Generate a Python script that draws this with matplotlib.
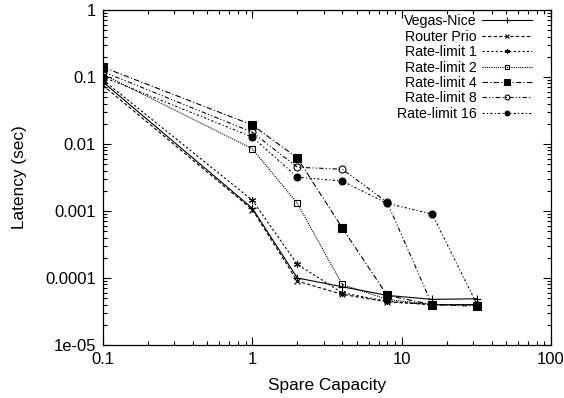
import matplotlib
matplotlib.use("Agg")
import matplotlib.pyplot as plt
from matplotlib.ticker import FuncFormatter, LogLocator

plt.rcParams["font.family"] = ["Liberation Sans", "DejaVu Sans"]

capacity = [0.1, 1, 2, 4, 8, 16, 32]
vegas_nice = [0.084, 0.0011, 0.0001, 0.000074, 0.000055, 0.000048, 0.000049]
router_prio = [0.075, 0.00105, 0.00009, 0.000057, 0.000044, 0.00004, 0.00004]
rate_1 = [0.09, 0.00145, 0.00016, 0.00006, 0.000045, 0.00004, 0.00004]
rate_2 = [0.11, 0.0085, 0.0013, 0.00008, 0.000048, 0.00004, 0.00004]
rate_4 = [0.14, 0.0192, 0.0062, 0.00056, 0.000055, 0.00004, 0.000038]
rate_8 = [0.12, 0.015, 0.0045, 0.0042, 0.00135, 0.00004, 0.00004]
rate_16 = [0.1, 0.0127, 0.0032, 0.0028, 0.0013, 0.0009, 0.00004]

series = [
    ("Vegas-Nice", vegas_nice, "-", "+", "k", 6),
    ("Router Prio", router_prio, (0, (3, 2)), "x", "k", 4),
    ("Rate-limit 1", rate_1, (0, (2, 2)), (6, 2, 0), "k", 5),
    ("Rate-limit 2", rate_2, (0, (1, 1)), "s", "none", 5),
    ("Rate-limit 4", rate_4, (0, (5, 2, 1, 2)), "s", "k", 6),
    ("Rate-limit 8", rate_8, (0, (4, 2, 1, 2, 1, 2)), "o", "none", 5),
    ("Rate-limit 16", rate_16, (0, (2, 2, 1, 2)), "o", "k", 5),
]

fig = plt.figure(figsize=(5.64, 3.98), dpi=100)
ax = fig.add_axes([103 / 564, 53 / 398, 448 / 564, 335 / 398])

for label, vals, ls, mk, mfc, ms in series:
    ax.plot(capacity, vals, color="k", ls=ls, lw=0.8, marker=mk, ms=ms,
            mfc=mfc, mec="k", mew=0.8, label=label)

ax.set_xscale("log")
ax.set_yscale("log")
ax.set_xlim(0.1, 100)
ax.set_ylim(1e-5, 1)

fmt = {1: "1", 0.1: "0.1", 0.01: "0.01", 0.001: "0.001", 1e-4: "0.0001", 1e-5: "1e-05",
       10: "10", 100: "100"}
ax.xaxis.set_major_formatter(FuncFormatter(lambda v, p: fmt.get(round(v, 6), "")))
ax.yaxis.set_major_formatter(FuncFormatter(lambda v, p: fmt.get(round(v, 6) if v >= 1e-4 else 1e-5, "")))
ax.xaxis.set_minor_locator(LogLocator(base=10, subs=range(2, 10)))
ax.yaxis.set_minor_locator(LogLocator(base=10, subs=range(2, 10)))

ax.tick_params(which="both", direction="in", top=True, right=True, labelsize=12, width=0.8)
ax.tick_params(which="major", length=6, pad=5)
ax.tick_params(which="minor", length=3)
for s in ax.spines.values():
    s.set_linewidth(0.9)

ax.set_xlabel("Spare Capacity", fontsize=12.4, labelpad=8)
ax.set_ylabel("Latency (sec)", fontsize=12.4, labelpad=13)

ax.legend(loc="upper right", frameon=False, markerfirst=False, fontsize=10.2,
          handlelength=3.5, labelspacing=0.1, borderaxespad=0, borderpad=0.3,
          handletextpad=0.4, markerscale=0.7, bbox_to_anchor=(1 - 15 / 448, 1.0))

fig.savefig("out.png", dpi=100)
